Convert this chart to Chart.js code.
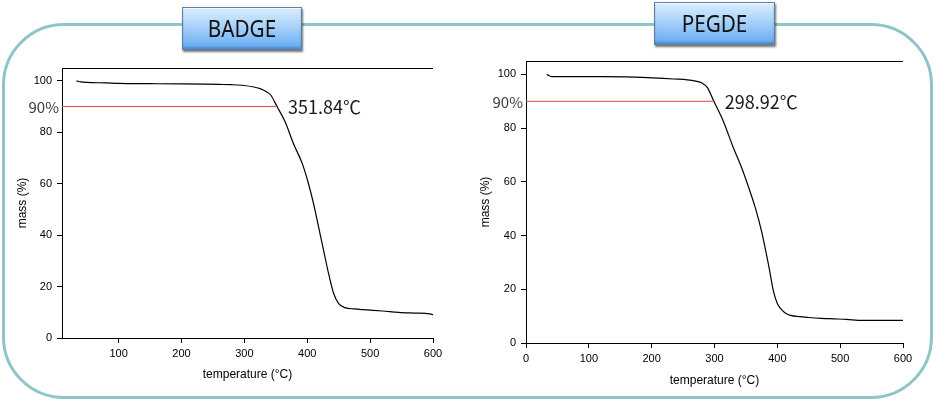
<!DOCTYPE html>
<html>
<head>
<meta charset="utf-8">
<script src="https://cdn.jsdelivr.net/npm/chart.js@4.4.1/dist/chart.umd.min.js"></script>
<style>
  body { margin: 0; background: #fff; }
  #wrap { position: relative; width: 948px; height: 402px; overflow: hidden; }
  #frame {
    position: absolute; left: 2px; top: 23px; width: 931px; height: 376px;
    box-sizing: border-box; border: 3.5px solid #8fc5c8; border-radius: 62px;
  }
  canvas { position: absolute; left: 0; top: 0; }
  .tag {
    position: absolute; box-sizing: border-box; height: 43px;
    border: 1px solid #5d7fa3;
    background: linear-gradient(#d9eefe, #a9d2fa 45%, #62aaf0);
    box-shadow: 1px 2px 2px rgba(0,0,0,0.55), inset 0 1px 0 #f4faff, inset 0 -2px 2px rgba(40,80,140,0.35);
    font-family: "Noto Sans", sans-serif; font-size: 23px; color: #111;
    text-align: center; line-height: 41px; z-index: 2;
  }
  .tag span { display: inline-block; transform: scaleX(0.9); }
</style>
</head>
<body>
<div id="wrap">
  <div id="frame"></div>
  <canvas id="badge" width="948" height="402"></canvas>
  <canvas id="pegde" width="948" height="402"></canvas>
  <div class="tag" style="left:182px; top:7px; width:120px;"><span>BADGE</span></div>
  <div class="tag" style="left:654px; top:2px; width:121px;"><span>PEGDE</span></div>
</div>
<script>
// BADGE TGA curve
const badgeTemp = [33, 40, 50, 80, 100, 150, 200, 235, 260, 280, 300, 315, 325, 335, 342, 352, 365, 378, 392, 402, 410, 418, 426, 434, 442, 450, 460, 475, 490, 520, 545, 570, 595, 600];
const badgeMass = [100, 99.6, 99.4, 99.2, 99.0, 98.9, 98.8, 98.7, 98.6, 98.5, 98.2, 97.6, 97.0, 95.8, 94.5, 90, 84, 75.6, 67.9, 60, 52.3, 43.2, 34.1, 25, 17.3, 13.4, 11.8, 11.3, 11.0, 10.5, 10.0, 9.7, 9.4, 9.1];
const badgeOnset = 351.84;

// PEGDE TGA curve
const pegdeTemp = [33, 37, 41, 80, 120, 160, 185, 210, 235, 257, 270, 280, 289, 299, 314, 330, 342, 351, 365, 375, 386, 394, 400, 405, 412, 421, 435, 450, 470, 490, 510, 535, 560, 600];
const pegdeMass = [100, 99.5, 99.2, 99.2, 99.2, 99.1, 98.9, 98.6, 98.3, 98.0, 97.5, 96.8, 95.0, 90, 82.6, 72.7, 66, 60.2, 50.3, 41.5, 29.1, 19.1, 14.7, 12.9, 11.3, 10.3, 9.8, 9.5, 9.2, 9.0, 8.8, 8.4, 8.4, 8.4];
const pegdeOnset = 298.92;

const badgeXTicks = [100, 200, 300, 400, 500, 600];
const pegdeXTicks = [0, 100, 200, 300, 400, 500, 600];
const yTicks = [0, 20, 40, 60, 80, 100];
const levelLine = 90;

const tickFont = { family: "'Liberation Sans', Arial, sans-serif", size: 11 };

const notes = {
    id: 'notes',
    afterDatasetsDraw(chart, args, opts) {
        const ctx = chart.ctx;
        const area = chart.chartArea;
        const y = chart.scales.y.getPixelForValue(levelLine);
        const x = chart.scales.x.getPixelForValue(opts.onset);
        ctx.save();
        ctx.fillStyle = '#3a3a3a';
        ctx.textBaseline = 'middle';
        ctx.textAlign = 'right';
        ctx.font = "15px 'Noto Sans CJK KR', 'Noto Sans', sans-serif";
        ctx.fillText(levelLine + '%', area.left - 3, y + 1);
        ctx.fillStyle = '#1a1a1a';
        ctx.textAlign = 'left';
        ctx.font = "18px 'Noto Sans CJK KR', 'Noto Sans', sans-serif";
        ctx.fillText(opts.onset.toFixed(2) + '℃', x + 11, y + 1);
        // top edge of the plot box
        ctx.strokeStyle = '#000';
        ctx.lineWidth = 1;
        ctx.beginPath();
        ctx.moveTo(area.left, area.top + 0.5);
        ctx.lineTo(area.right, area.top + 0.5);
        ctx.stroke();
        ctx.restore();
    }
};

function makeChart(id, temps, mass, onset, xMin, xTicks, pad, yWidth, xHeight) {

    const curve = temps.map((t, i) => ({ x: t, y: mass[i] }));

    new Chart(document.getElementById(id), {
        type: 'line',
        data: {
            datasets: [{
                data: [{ x: xMin, y: levelLine }, { x: onset, y: levelLine }],
                borderColor: '#e8463c',
                borderWidth: 1,
                pointRadius: 0
            }, {
                data: curve,
                borderColor: '#000',
                borderWidth: 1.2,
                pointRadius: 0,
                cubicInterpolationMode: 'monotone'
            }]
        },
        options: {
            responsive: false,
            animation: false,
            devicePixelRatio: 1,
            layout: { padding: pad },
            plugins: {
                legend: { display: false },
                tooltip: { enabled: false },
                notes: { onset: onset }
            },
            scales: {
                x: {
                    type: 'linear',
                    min: xMin,
                    max: 600,
                    afterBuildTicks: s => { s.ticks = xTicks.map(v => ({ value: v })); },
                    afterFit: s => { s.height = xHeight; },
                    grid: { display: true, drawOnChartArea: false, drawTicks: true, tickLength: 5, color: '#000' },
                    border: { display: true, color: '#000', width: 1 },
                    ticks: { color: '#000', font: tickFont, padding: 4, maxRotation: 0 },
                    title: { display: true, text: 'temperature (°C)', color: '#000', font: { family: tickFont.family, size: 12 }, padding: 0 }
                },
                y: {
                    min: 0,
                    max: 105,
                    afterBuildTicks: s => { s.ticks = yTicks.map(v => ({ value: v })); },
                    afterFit: s => { s.width = yWidth; },
                    grid: { display: true, drawOnChartArea: false, drawTicks: true, tickLength: 5, color: '#000' },
                    border: { display: true, color: '#000', width: 1 },
                    ticks: { color: '#000', font: tickFont, padding: 5 },
                    title: { display: true, text: 'mass (%)', color: '#000', font: { family: tickFont.family, size: 12 }, padding: 0 }
                }
            }
        },
        plugins: [notes]
    });
}

makeChart('badge', badgeTemp, badgeMass, badgeOnset, 10, badgeXTicks,
    { left: 15, top: 68, right: 515, bottom: 20 }, 47, 44);

makeChart('pegde', pegdeTemp, pegdeMass, pegdeOnset, 0, pegdeXTicks,
    { left: 478, top: 61, right: 45, bottom: 14 }, 48, 45);
</script>
</body>
</html>
